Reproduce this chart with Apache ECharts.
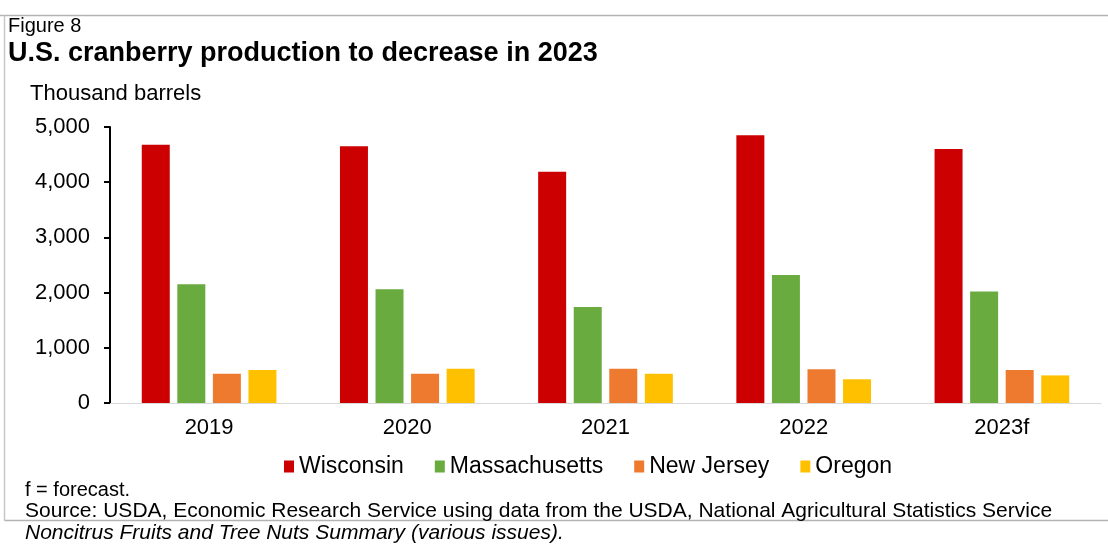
<!DOCTYPE html>
<html>
<head>
<meta charset="utf-8">
<title>U.S. cranberry production</title>
<script src="https://cdn.jsdelivr.net/npm/echarts@6/dist/echarts.min.js"></script>
<style>
  html, body { margin: 0; padding: 0; background: #fff; }
  #chart { width: 1108px; height: 546px; }
</style>
</head>
<body>
<div id="chart"></div>
<script>
// Production by state, thousand barrels (2023 is a forecast)
const years = ['2019', '2020', '2021', '2022', '2023f'];
const wisconsin = [4680, 4650, 4190, 4850, 4600];
const massachusetts = [2150, 2060, 1740, 2320, 2020];
const newJersey = [530, 530, 620, 610, 600];
const oregon = [600, 620, 530, 430, 500];
const yTicks = { min: 0, max: 5000, step: 1000 };

const FONT = "'Liberation Sans', Arial, Helvetica, sans-serif";
const chart = echarts.init(document.getElementById('chart'), null, { renderer: 'canvas' });

function bar(name, data, color) {
  return {
    name: name,
    type: 'bar',
    data: data,
    barWidth: 28,
    barGap: '27%',
    itemStyle: { color: color }
  };
}

function text(x, y, str, size, extra) {
  return {
    type: 'text',
    x: x,
    y: y,
    silent: true,
    style: Object.assign({
      text: str,
      fontFamily: FONT,
      fontSize: size,
      fill: '#000',
      verticalAlign: 'middle',
      align: 'left'
    }, extra || {})
  };
}

chart.setOption({
  animation: false,
  backgroundColor: '#fff',
  grid: { left: 110, right: 7, top: 127, bottom: 143, containLabel: false },
  legend: {
    left: 279,
    top: 450,
    icon: 'rect',
    itemWidth: 10,
    itemHeight: 12,
    itemGap: 31,
    textStyle: { fontFamily: FONT, fontSize: 23, color: '#000', padding: [0, 0, 0, 0] },
    data: ['Wisconsin', 'Massachusetts', 'New Jersey', 'Oregon']
  },
  xAxis: {
    type: 'category',
    data: years,
    axisLine: { show: true, lineStyle: { color: '#d9d9d9', width: 1 } },
    axisTick: { show: false },
    axisLabel: { fontFamily: FONT, fontSize: 22, color: '#000', margin: 14 },
    splitLine: { show: false }
  },
  yAxis: {
    type: 'value',
    min: yTicks.min,
    max: yTicks.max,
    interval: yTicks.step,
    axisLine: { show: true, lineStyle: { color: '#000', width: 2 } },
    axisTick: { show: true, inside: false, length: 6, lineStyle: { color: '#000', width: 2 } },
    axisLabel: {
      fontFamily: FONT,
      fontSize: 22,
      color: '#000',
      margin: 20,
      formatter: v => v.toLocaleString('en-US')
    },
    splitLine: { show: false }
  },
  series: [
    bar('Wisconsin', wisconsin, '#CC0000'),
    bar('Massachusetts', massachusetts, '#6AAB3F'),
    bar('New Jersey', newJersey, '#EE7A30'),
    bar('Oregon', oregon, '#FFC000')
  ],
  graphic: [
    // frame around the figure
    { type: 'line', silent: true, shape: { x1: 0, y1: 15.5, x2: 1108, y2: 15.5 }, style: { stroke: '#b3b3b3', lineWidth: 1.5 } },
    { type: 'line', silent: true, shape: { x1: 4.5, y1: 15.5, x2: 4.5, y2: 520.5 }, style: { stroke: '#c8c8c8', lineWidth: 1.5 } },
    { type: 'line', silent: true, shape: { x1: 4.5, y1: 520.5, x2: 1108, y2: 520.5 }, style: { stroke: '#b3b3b3', lineWidth: 1.5 } },
    text(8, 26, 'Figure 8', 20),
    text(8, 54, 'U.S. cranberry production to decrease in 2023', 27, { fontWeight: 'bold' }),
    text(30, 94, 'Thousand barrels', 22),
    text(25, 490, 'f = forecast.', 20),
    text(25, 511, 'Source: USDA, Economic Research Service using data from the USDA, National Agricultural Statistics Service', 21),
    text(25, 533, 'Noncitrus Fruits and Tree Nuts Summary (various issues).', 21, { fontStyle: 'italic' })
  ]
});
</script>
</body>
</html>
